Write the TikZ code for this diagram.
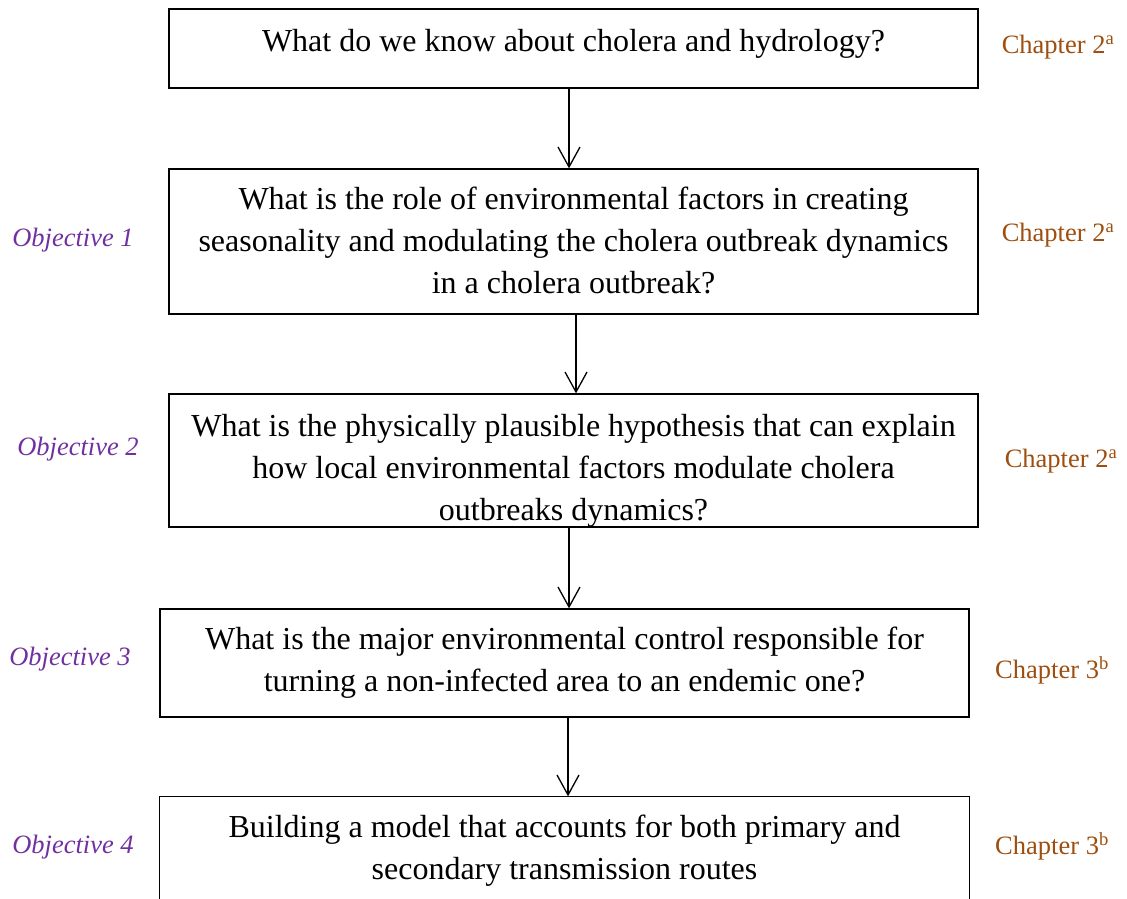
\documentclass[tikz,border=0pt]{standalone}
\usepackage{fontspec}
\setmainfont{Liberation Serif}
\usepackage{xcolor}
\usetikzlibrary{arrows.meta, positioning}

\definecolor{objpurple}{RGB}{112,48,160}
\definecolor{chapbrown}{RGB}{158,78,14}

\begin{document}
\begin{tikzpicture}[x=1pt, y=-1pt,
  qbox/.style={draw, line width=1.3pt, minimum width=809pt, inner sep=0pt},
  qtext/.style={align=center, font=\fontsize{32}{42}\selectfont, inner sep=0pt},
  obj/.style={font=\fontsize{26.5}{30}\selectfont\itshape, text=objpurple},
  chap/.style={font=\fontsize{26.5}{30}\selectfont, text=chapbrown},
  arr/.style={-{Straight Barb[length=20pt, width=22pt, line width=1.3pt]}, line width=1.3pt}
]
  \useasboundingbox (0,0) rectangle (1127,899);

  % Question boxes
  \node[qbox, minimum height=79pt] (q1) at (573.5,48.5) {};
  \node[qbox, minimum height=145pt] (q2) at (573.5,241.5) {};
  \node[qbox, minimum height=133pt] (q3) at (573.5,460.5) {};
  \node[qbox, minimum height=108pt] (q4) at (564.5,663) {};
  \node[qbox, draw=none, minimum height=102pt] (q5) at (564.5,848) {};
  \draw[line width=1.3pt] (q5.south west) -- (q5.north west) -- (q5.north east) -- (q5.south east);

  % Question texts
  \node[qtext] (t1) at ([yshift=5pt]q1.center)
    {What do we know about cholera and hydrology?};
  \node[qtext] (t2) at ([yshift=1pt]q2.center)
    {What is the role of environmental factors in creating\\
     seasonality and modulating the cholera outbreak dynamics\\
     in a cholera outbreak?};
  \node[qtext] (t3) at ([yshift=-10pt]q3.center)
    {What is the physically plausible hypothesis that can explain\\
     how local environmental factors modulate cholera\\
     outbreaks dynamics?};
  \node[qtext] (t4) at (q4.center)
    {What is the major environmental control responsible for\\
     turning a non-infected area to an endemic one?};
  \node[qtext] (t5) at ([yshift=-3pt]q5.center)
    {Building a model that accounts for both primary and\\
     secondary transmission routes};

  % Objectives
  \node[obj] (o1) at (73,240) {Objective 1};
  \node[obj] (o2) at (78,449) {Objective 2};
  \node[obj] (o3) at (70,659) {Objective 3};
  \node[obj] (o4) at (73,847) {Objective 4};

  % Chapters
  \node[chap] (c1) at (1058,47) {Chapter 2\textsuperscript{a}};
  \node[chap] (c2) at (1058,235) {Chapter 2\textsuperscript{a}};
  \node[chap] (c3) at (1061,461) {Chapter 2\textsuperscript{a}};
  \node[chap] (c4) at (1052,670) {Chapter 3\textsuperscript{b}};
  \node[chap] (c5) at (1052,846) {Chapter 3\textsuperscript{b}};

  % Arrows
  \draw[arr] ([xshift=-4.5pt]q1.south) -- ([xshift=-4.5pt]q2.north);
  \draw[arr] ([xshift=2.5pt]q2.south) -- ([xshift=2.5pt]q3.north);
  \draw[arr] ([xshift=-4.5pt]q3.south) -- ([xshift=4.5pt]q4.north);
  \draw[arr] ([xshift=3.5pt]q4.south) -- ([xshift=3.5pt]q5.north);
\end{tikzpicture}
\end{document}
